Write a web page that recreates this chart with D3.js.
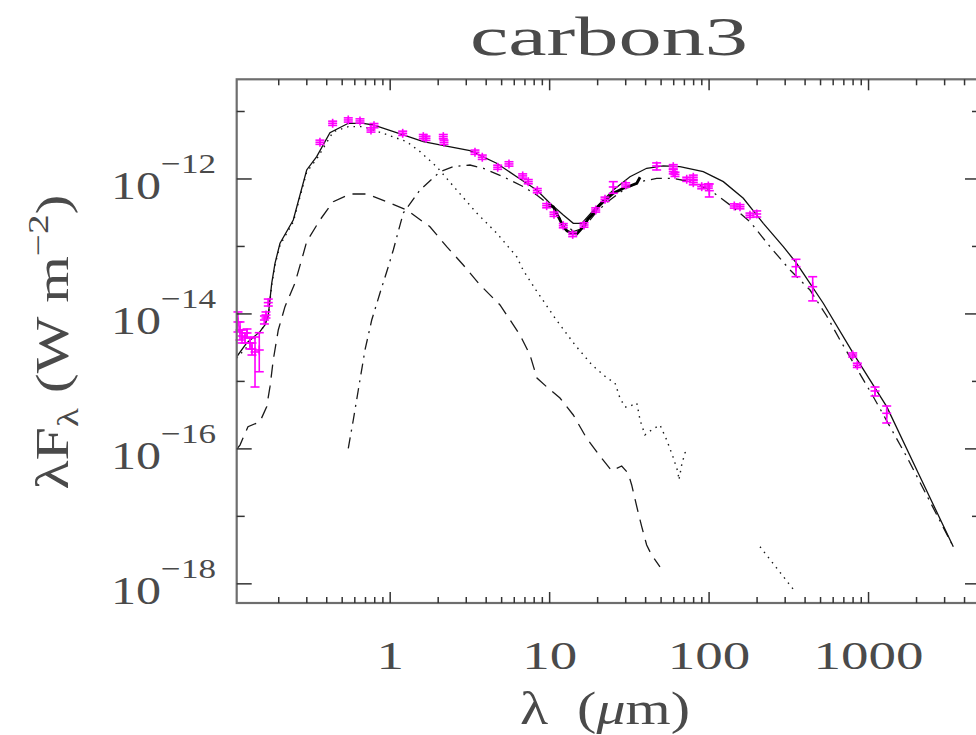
<!DOCTYPE html>
<html><head><meta charset="utf-8">
<script src="https://cdn.jsdelivr.net/npm/d3@7"></script>
<style>body{margin:0;background:#fff}svg{display:block}</style>
</head><body>
<script>
// ---------------- DATA ----------------
const titleText = "carbon3";
const xTickValues = [1, 10, 100, 1000];
const xTickLabels = ["1", "10", "100", "1000"];
const yTickExps = [-12, -14, -16, -18];

// total model (solid)
const totalLam = [0.109,0.126,0.1525,0.164,0.172,0.1807,0.1895,0.2037,0.2467,0.2995,0.346,0.419,0.546,0.678,0.783,1.208,1.613,2.052,3.166,4.65,6.215,8.295,10.05,12.18,14.07,15.89,19.72,25.07,31.9,40.6,51.6,65.6,91.9,122.8,163.9,218.8,292,354,390,520,802,1300,2102,3401];
const totalFlux = [2.32e-15,3.71e-15,5.46e-15,6.86e-15,9.64e-15,2.84e-14,5.63e-14,1.114e-13,2.47e-13,1.36e-12,2.14e-12,4.86e-12,6.69e-12,6.69e-12,6.31e-12,4.49e-12,3.57e-12,3.19e-12,2.63e-12,1.71e-12,1.08e-12,6.87e-13,4.36e-13,2.92e-13,2.20e-13,2.20e-13,3.88e-13,6.87e-13,1.08e-12,1.44e-12,1.56e-12,1.52e-12,1.28e-12,9.12e-13,5.18e-13,2.20e-13,9.92e-14,5.63e-14,4.0e-14,1.44e-14,2.61e-15,4.22e-16,3.87e-17,3.55e-18];

// stellar photosphere (dotted) - null marks a gap
const dottedLam = [0.109,0.1525,0.172,0.1807,0.1895,0.2037,0.2467,0.2995,0.346,0.4396,0.546,0.678,0.783,0.997,1.269,1.538,1.957,2.612,3.487,4.65,6.215,6.81,8.21,10.8,14.42,18.44,22.9,25.7,27.6,29.7,31.0,35.2,36.9,39.6,43.6,49.2,54.2,59.4,63.8,64.7,67.3,70.6,73.4,140,208.6,337.4];
const dottedFlux = [2.22e-15,5.21e-15,9.01e-15,2.69e-14,5.31e-14,1.05e-13,2.31e-13,1.27e-12,1.98e-12,5.02e-12,5.96e-12,5.96e-12,5.32e-12,4.38e-12,3.57e-12,2.54e-12,1.52e-12,6.87e-13,3.13e-13,1.58e-13,7.05e-14,4.48e-14,2.26e-14,8.7e-15,3.47e-15,1.75e-15,1.12e-15,9.47e-16,5.68e-16,4.17e-16,4.17e-16,4.79e-16,2.68e-16,1.61e-16,1.91e-16,2.26e-16,1.36e-16,7.59e-17,4.54e-17,3.46e-17,5.77e-17,8.77e-17,9.08e-17,null,3.55e-18,8.29e-19];

// scattered light (dashed)
const dashedLam = [0.109,0.1143,0.1283,0.1525,0.168,0.1763,0.1848,0.1987,0.2189,0.2529,0.2839,0.2995,0.3627,0.4396,0.56,0.712,0.951,1.269,1.776,2.262,2.874,3.658,4.883,6.52,7.53,8.33,9.77,11.61,14.07,17.08,21.21,24.5,28.3,31.1,32.7,35.2,37.8,40.6,43.6,49.2];
const dashedFlux = [9.96e-17,1.14e-16,2.13e-16,2.53e-16,4.22e-16,8.35e-16,2.08e-15,5.78e-15,1.28e-14,2.87e-14,7.48e-14,1.18e-13,2.47e-13,4.61e-13,5.99e-13,5.99e-13,4.61e-13,3.47e-13,1.96e-13,9.92e-14,5.31e-14,2.69e-14,1.36e-14,4.88e-15,2.46e-15,1.12e-15,7.98e-16,5.68e-16,3.18e-16,1.43e-16,7.25e-17,4.75e-17,5.57e-17,4.35e-17,2.92e-17,1.39e-17,7.03e-18,3.76e-18,2.67e-18,1.79e-18];

// thermal dust emission (dash-dot)
const dashdotLam = [0.546,0.587,0.631,0.695,0.766,0.863,0.973,1.046,1.208,1.538,2.052,2.487,3.166,3.836,5.12,6.835,8.295,9.58,12.18,14.07,16.26,19.72,23.9,28.97,36.9,46.9,59.6,75.9,101.3,135.2,180.5,241,321.7,429.5,546.6,662,1071,1735,3401];
const dashdotFlux = [1.02e-16,2.68e-16,7.46e-16,2.92e-15,8.13e-15,2.04e-14,5.01e-14,8.86e-14,3.13e-13,6.87e-13,1.28e-12,1.52e-12,1.61e-12,1.44e-12,1.08e-12,7.69e-13,5.79e-13,4.41e-13,2.31e-13,1.66e-13,1.86e-13,3.27e-13,4.88e-13,6.87e-13,9.12e-13,1.02e-12,1.02e-12,9.12e-13,6.87e-13,4.12e-13,2.33e-13,9.92e-14,4.48e-14,2.26e-14,9.32e-15,4.11e-15,5.93e-16,7.66e-17,3.55e-18];

// spectrum (thick black)
const specLam = [9.81,10.54,11.61,12.18,12.85,13.75,14.78,16.26,17.4,18.79,20.1,21.7,23.2,25.07,26.8,28.97,31.9,35.2,36.9];
const specFlux = [4.12e-13,3.85e-13,2.47e-13,1.96e-13,1.70e-13,1.57e-13,1.53e-13,1.96e-13,2.55e-13,3.1e-13,3.85e-13,4.61e-13,5.23e-13,6.14e-13,6.64e-13,7.28e-13,7.87e-13,8.63e-13,1.06e-12];

// photometry (magenta)
const photLam = [0.111,0.1143,0.1177,0.1229,0.1265,0.1321,0.1359,0.142,0.151,0.1627,0.1664,0.172,0.3627,0.4357,0.546,0.6465,0.7579,0.7914,1.198,1.613,1.677,2.153,2.175,3.402,3.781,4.723,5.559,6.776,7.345,8.368,9.58,10.65,12.18,13.95,16.43,19.45,22.24,25.07,29.99,46.9,59.6,59.6,61.1,72.4,79.6,79.6,89.9,98.9,100.3,143.9,156.2,180.5,198.9,350.8,446.4,795.6,850.3,1098,1300];
const photFlux = [7.6e-15,5.78e-15,4.71e-15,4.4e-15,5.22e-15,3.71e-15,3.02e-15,2.73e-15,2.92e-15,8.13e-15,9.64e-15,1.47e-14,3.5e-12,6.69e-12,7.49e-12,7.24e-12,5.32e-12,6.17e-12,4.75e-12,4.24e-12,4.01e-12,4.24e-12,3.5e-12,2.49e-12,2.1e-12,1.49e-12,1.67e-12,1.11e-12,9.12e-13,6.71e-13,4.02e-13,3.0e-13,2.03e-13,1.51e-13,2.08e-13,3.47e-13,5.0e-13,7.61e-13,8.15e-13,1.56e-12,1.52e-12,1.28e-12,1.17e-12,9.9e-13,1.06e-12,8.81e-13,7.69e-13,7.87e-13,6.71e-13,3.98e-13,3.88e-13,2.9e-13,3.03e-13,5.01e-14,2.53e-14,2.46e-15,1.73e-15,7.21e-16,3.37e-16];
const photLo = [5.4e-15,4.11e-15,3.71e-15,3.71e-15,4.55e-15,3.02e-15,2.46e-15,8.26e-16,1.39e-15,7.1e-15,8.7e-15,1.31e-14,3.26e-12,6.22e-12,6.97e-12,6.73e-12,4.95e-12,5.74e-12,4.42e-12,3.94e-12,3.73e-12,3.94e-12,3.26e-12,2.32e-12,1.95e-12,1.39e-12,1.55e-12,1.03e-12,8.48e-13,6.24e-13,3.74e-13,2.79e-13,1.89e-13,1.4e-13,1.93e-13,3.23e-13,4.65e-13,6.14e-13,7.58e-13,1.36e-12,1.41e-12,1.19e-12,1.09e-12,9.21e-13,9.86e-13,8.19e-13,7.15e-13,7.32e-13,5.41e-13,3.7e-13,3.61e-13,2.7e-13,2.73e-13,3.56e-14,1.56e-14,2.29e-15,1.61e-15,6.08e-16,2.42e-16];
const photHi = [1.07e-14,7.6e-15,5.78e-15,5.22e-15,5.98e-15,4.4e-15,3.71e-15,4.55e-15,5.27e-15,9.32e-15,1.07e-14,1.66e-14,3.76e-12,7.19e-12,8.05e-12,7.78e-12,5.72e-12,6.63e-12,5.11e-12,4.56e-12,4.31e-12,4.56e-12,3.76e-12,2.68e-12,2.26e-12,1.6e-12,1.8e-12,1.19e-12,9.8e-13,7.21e-13,4.32e-13,3.23e-13,2.18e-13,1.62e-13,2.24e-13,3.73e-13,5.38e-13,9.12e-13,8.76e-13,1.73e-12,1.63e-12,1.38e-12,1.26e-12,1.06e-12,1.14e-12,9.47e-13,8.27e-13,8.46e-13,8.43e-13,4.28e-13,4.17e-13,3.12e-13,3.36e-13,6.45e-14,3.56e-14,2.64e-15,1.86e-15,8.26e-16,4.32e-16];

// ---------------- CHART ----------------
const W = 976, H = 735;
const plot = {l: 236.7, r: 980, t: 79.3, b: 603};
const FONT = "'Liberation Serif','DejaVu Serif',serif";
const TXT = "#4a4a4a";

const svg = d3.select("body").append("svg").attr("width", W).attr("height", H);

const x = d3.scaleLog().domain([0.109, 5000]).range([plot.l, plot.r]);
const y = d3.scaleLog().domain([5.2e-19, 3.0e-11]).range([plot.b, plot.t]);

svg.append("defs").append("clipPath").attr("id", "clip")
  .append("rect").attr("x", plot.l).attr("y", plot.t)
  .attr("width", plot.r - plot.l).attr("height", plot.b - plot.t);

const line = d3.line().defined(d => d.f != null).x(d => x(d.l)).y(d => y(d.f));
const zipS = (L, F) => L.map((l, i) => ({l, f: F[i]}));

const lines = svg.append("g").attr("clip-path", "url(#clip)").attr("fill", "none");
lines.append("path").datum(zipS(dashedLam, dashedFlux)).attr("d", line)
  .attr("stroke", "#1a1a1a").attr("stroke-width", 1.3).attr("stroke-dasharray", "13,8");
lines.append("path").datum(zipS(dashdotLam, dashdotFlux)).attr("d", line)
  .attr("stroke", "#1a1a1a").attr("stroke-width", 1.3).attr("stroke-dasharray", "11,6,2,6");
lines.append("path").datum(zipS(dottedLam, dottedFlux)).attr("d", line)
  .attr("stroke", "#1a1a1a").attr("stroke-width", 1.4).attr("stroke-dasharray", "1.5,5");
lines.append("path").datum(zipS(totalLam, totalFlux)).attr("d", line)
  .attr("stroke", "#111").attr("stroke-width", 1.3);
lines.append("path").datum(zipS(specLam, specFlux)).attr("d", line)
  .attr("stroke", "#000").attr("stroke-width", 2.8);

// photometry
const pg = svg.append("g").attr("stroke", "#ff00ff").attr("stroke-width", 1.6);
photLam.forEach((l, i) => {
  const cx = x(l), cy = y(photFlux[i]), yl = y(photLo[i]), yh = y(photHi[i]);
  const c = 4.5;
  pg.append("line").attr("x1", cx).attr("x2", cx).attr("y1", yl).attr("y2", yh);
  pg.append("line").attr("x1", cx - c).attr("x2", cx + c).attr("y1", yl).attr("y2", yl);
  pg.append("line").attr("x1", cx - c).attr("x2", cx + c).attr("y1", yh).attr("y2", yh);
  pg.append("line").attr("x1", cx - c).attr("x2", cx + c).attr("y1", cy).attr("y2", cy);
  pg.append("line").attr("x1", cx).attr("x2", cx).attr("y1", cy - c).attr("y2", cy + c);
});

// frame
svg.append("rect").attr("x", plot.l).attr("y", plot.t)
  .attr("width", plot.r - plot.l).attr("height", plot.b - plot.t)
  .attr("fill", "none").attr("stroke", "#6e6e6e").attr("stroke-width", 2.2);

// ticks
const tg = svg.append("g").attr("stroke", "#333").attr("stroke-width", 1.5);
x.ticks().forEach(v => {
  const lg = Math.log10(v);
  const maj = Math.abs(lg - Math.round(lg)) < 1e-6;
  const L = maj ? 11 : 6, px = x(v);
  tg.append("line").attr("x1", px).attr("x2", px).attr("y1", plot.b).attr("y2", plot.b - L);
  tg.append("line").attr("x1", px).attr("x2", px).attr("y1", plot.t).attr("y2", plot.t + L);
});
d3.range(-18, -10).forEach(e => {
  const py = y(Math.pow(10, e));
  const L = (e % 2 === 0) ? 15 : 8;
  tg.append("line").attr("x1", plot.l).attr("x2", plot.l + L).attr("y1", py).attr("y2", py);
  tg.append("line").attr("x1", plot.r).attr("x2", plot.r - L).attr("y1", py).attr("y2", py);
});

function stretchX(sel, target, ax) {
  const w = sel.node().getBBox().width;
  const s = target / w;
  sel.attr("transform", `translate(${ax},0) scale(${s},1) translate(${-ax},0)`);
  return s;
}

// x tick labels
const xl = xTickValues.map((v, i) => svg.append("text")
  .attr("x", x(v)).attr("y", 669).attr("text-anchor", "middle")
  .attr("font-family", FONT).attr("font-size", 40).attr("fill", TXT)
  .text(xTickLabels[i]));
{
  const w = xl[3].node().getBBox().width;
  const xs = 110 / w;
  xl.forEach((t, i) => {
    const ax = x(xTickValues[i]);
    t.attr("transform", `translate(${ax},0) scale(${xs},1) translate(${-ax},0)`);
  });
}

// y tick labels
yTickExps.forEach(e => {
  const py = y(Math.pow(10, e));
  const t = svg.append("text").attr("x", 216).attr("y", py + 20).attr("text-anchor", "end")
    .attr("font-family", FONT).attr("font-size", 40).attr("fill", TXT);
  t.append("tspan").text("10");
  t.append("tspan").attr("font-size", 28).attr("dy", -26).text("\u2212" + Math.abs(e));
  stretchX(t, 105, 216);
});

// title
const tt = svg.append("text").attr("x", 609).attr("y", 55).attr("text-anchor", "middle")
  .attr("font-family", FONT).attr("font-size", 54).attr("fill", TXT).text(titleText);
stretchX(tt, 278, 609);

// x axis title
const xt = svg.append("text").attr("x", 605).attr("y", 724).attr("text-anchor", "middle")
  .attr("font-family", FONT).attr("font-size", 46).attr("fill", TXT);
xt.append("tspan").text("\u03bb\u2002(");
xt.append("tspan").attr("font-style", "italic").text("\u03bc");
xt.append("tspan").text("m)");
stretchX(xt, 170, 605);

// y axis title
const yg = svg.append("g").attr("transform", "translate(68,342) rotate(-90)");
const yt = yg.append("text").attr("x", 0).attr("y", 0).attr("text-anchor", "middle")
  .attr("font-family", FONT).attr("font-size", 46).attr("fill", TXT);
yt.append("tspan").text("\u03bbF");
yt.append("tspan").attr("font-size", 30).attr("dy", 10).text("\u03bb");
yt.append("tspan").attr("dy", -10).text(" (W m");
yt.append("tspan").attr("font-size", 30).attr("dy", -20).text("\u22122");
yt.append("tspan").attr("dy", 20).text(")");
stretchX(yt, 295, 0);
</script>
</body></html>
